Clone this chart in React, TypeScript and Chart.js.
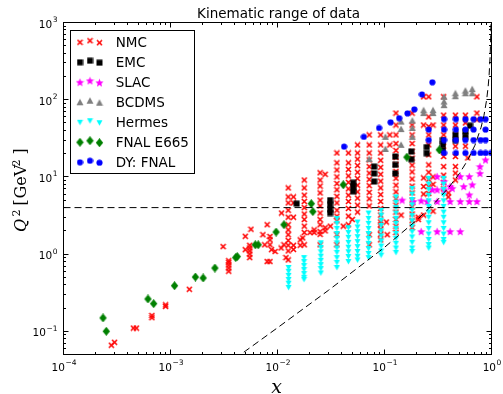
import React, { useEffect, useRef } from 'react';
import { Chart, registerables } from 'chart.js';

Chart.register(...registerables);

// ---------------- data (x bin -> list of Q^2 values) ----------------
const NMC_X = [2.8e-4, 3.0e-4, 4.5e-4, 4.8e-4, 6.7e-4, 9.0e-4, 1.5e-3, 3.1e-3, 3.5e-3, 5.0e-3, 5.5e-3, 5.65e-3, 7.3e-3, 7.6e-3, 8.0e-3, 8.5e-3, 8.8e-3, 9.5e-3, 0.0108, 0.0109, 0.0115, 0.012, 0.0126, 0.0141, 0.0163, 0.0172, 0.0178, 0.0201, 0.022, 0.025, 0.0279, 0.0312, 0.0359, 0.0412, 0.046, 0.05, 0.056, 0.072, 0.092, 0.104, 0.106, 0.112, 0.128, 0.143, 0.181, 0.207, 0.232, 0.259, 0.284, 0.357, 0.395, 0.46, 0.57, 0.6, 0.73];
const NMC_Q2 = [
  [0.066], [0.072], [0.11], [0.11], [0.15, 0.16], [0.21, 0.22], [0.35], [1.25],
  [0.6, 0.66, 0.72, 0.78, 0.82], [1.14, 1.7], [0.9, 1.0, 1.1, 1.2, 1.3], [2.1],
  [1.78], [1.32], [2.4, 0.8], [1.69, 1.53, 1.32, 0.8], [1.14], [1.08], [1.2], [3.4], [1.32], [0.9],
  [7.2, 5.5, 4.6, 3.7, 3.0, 2.4, 2.06, 1.78, 1.5, 1.3, 1.1, 0.84],
  [5.5, 4.6, 3.0, 1.3, 1.15],
  [1.53, 1.3], [1.62],
  [9.1, 7.2, 5.8, 4.8, 4.0, 3.3, 2.8, 2.3, 1.9, 1.32],
  [1.9], [1.9, 2.06],
  [11.3, 9.1, 7.6, 6.2, 5.0, 4.2, 3.4, 2.8, 2.4, 1.96, 1.8, 1.32],
  [10.8, 2.0, 2.2], [2.3],
  [20.4, 15.2, 12.3, 10.0, 8.2, 6.8, 5.6, 4.6, 3.7, 3.1, 2.7, 1.78, 1.32],
  [2.3],
  [20.4, 15.2, 12.5, 10.3, 8.5, 7.0, 5.8, 4.8, 3.9, 3.1, 2.4],
  [2.8],
  [25.9, 20.4, 17, 14, 11.5, 9.5, 7.8, 6.4, 5.3, 4.3, 3.5],
  [35, 25.9, 20.4, 16.6, 13.6, 11.2, 9.3, 7.7, 6.3, 5.2, 4.2, 1.78, 1.32],
  [35, 25.9, 20.4, 16.4, 13.3, 10.8, 8.8, 7.2, 5.9, 4.8, 3.9, 3.2, 2.6, 2.4, 2.1, 1.8, 1.53],
  [2.6], [1.78], [35, 25.9],
  [67, 47, 35, 27, 22, 17.8, 14.5, 11.8, 9.6, 7.8, 6.4, 5.2, 4.3, 3.5, 2.8, 2.3, 1.9],
  [3.2],
  [67, 47, 35, 27, 21.5, 17.5, 14.2, 11.6, 9.4, 7.6, 6.2, 5.0, 4.1, 3.3, 2.7, 2.2],
  [3.0, 2.8],
  [109, 47, 9.7, 7.5, 6.0, 3.2],
  [109, 60, 45, 35, 26, 19.3, 14.3, 11.5, 9.3, 7.5, 6.1],
  [47, 10, 8, 3.6],
  [109, 63, 47, 35, 25, 18.4, 13.6, 10.5, 8.5, 7.0],
  [6.2, 5.5],
  [63, 47, 35, 25, 18.4, 13.6, 11.2, 9.1],
  [63, 50, 35, 25],
  [17.6],
  [109, 67, 55],
];

const EMC_X = [0.0151, 0.031, 0.051, 0.08, 0.126, 0.178, 0.248, 0.352, 0.46, 0.57, 0.63];
const EMC_Q2 = [[4.5], [5.0, 4.4, 3.8, 3.4], [8.4, 7.4, 6.5], [13.6, 11.1, 8.7], [18.4, 14.3, 11.1], [21.3, 16.9], [24.3, 20.2], [30, 26, 22], [35, 30], [38.7, 33], [46]];

const SLAC_X = [0.146, 0.186, 0.22, 0.25, 0.28, 0.31, 0.36, 0.41, 0.43, 0.51, 0.55, 0.62, 0.66, 0.73, 0.78, 0.88];
const SLAC_Q2 = [[5.0], [4.8], [4.9, 1.96], [4.8], [6.8], [10.1, 6.8, 4.8, 1.96], [8.7, 6.8], [7.5, 4.8, 1.96], [7.1], [10.1, 4.8, 1.96], [7.5], [10.1, 5.85, 4.8], [7.9], [4.8], [11.1, 13.6], [16.6]];

const BCDMS_X = [0.072, 0.102, 0.143, 0.182, 0.232, 0.284, 0.36, 0.46, 0.57, 0.66];
const BCDMS_Q2 = [[17], [33, 23], [52, 41.6, 26], [53.6, 43, 33], [73, 67], [73, 67], [109, 94.5, 85], [121, 111], [131, 121], [137, 121]];

const HERMES_X = [0.0127, 0.0177, 0.0254, 0.0359, 0.046, 0.056, 0.071, 0.093, 0.128, 0.181, 0.259, 0.357];
const HERMES_Q2 = [
  [0.67, 0.6, 0.53, 0.47, 0.42, 0.37],
  [0.9, 0.8, 0.71, 0.63, 0.56, 0.5, 0.47],
  [1.4, 1.22, 1.07, 0.94, 0.83, 0.73, 0.65, 0.57],
  [2.9, 2.5, 2.15, 1.85, 1.6, 1.4, 1.2, 1.05, 0.9, 0.78, 0.67],
  [2.2, 1.9, 1.65, 1.42, 1.23, 1.07, 0.93, 0.8],
  [2.6, 2.25, 1.95, 1.68, 1.45, 1.25, 1.08, 0.94, 0.84],
  [3.4, 2.9, 2.5, 2.15, 1.85, 1.6, 1.38, 1.18, 1.02, 0.9],
  [3.7, 3.2, 2.75, 2.35, 2.0, 1.72, 1.48, 1.27, 1.1, 0.97],
  [5.5, 4.7, 4.0, 3.4, 2.9, 2.5, 2.15, 1.85, 1.6, 1.38, 1.2, 1.05],
  [7.1, 6.0, 5.1, 4.35, 3.7, 3.15, 2.7, 2.3, 1.95, 1.67, 1.42, 1.2, 1.08],
  [9.6, 8.1, 6.9, 5.8, 4.9, 4.15, 3.5, 3.0, 2.55, 2.15, 1.82, 1.55, 1.33, 1.2],
  [9.6, 8.1, 6.9, 5.8, 4.9, 4.15, 3.5, 3.0, 2.55, 2.15, 1.82, 1.55, 1.42],
];

const E665_X = [2.34e-4, 2.51e-4, 6.16e-4, 6.96e-4, 1.09e-3, 1.71e-3, 2.02e-3, 2.6e-3, 4.07e-3, 4.2e-3, 6.2e-3, 6.6e-3, 9.7e-3, 0.0115, 0.0207, 0.0214, 0.0412, 0.162, 0.325];
const E665_Q2 = [[0.149], [0.1], [0.262], [0.228], [0.389], [0.504], [0.49], [0.66], [0.9], [0.93], [1.32], [1.32], [1.93], [2.4], [4.5], [3.55], [7.9], [18], [22.4]];

const DY_X = [0.0419, 0.0641, 0.089, 0.114, 0.137, 0.164, 0.19, 0.224, 0.28, 0.259, 0.36, 0.465, 0.57, 0.68, 0.79, 0.88, 0.99];
const DY_Q2 = [[24.7], [33], [43], [51], [57.6], [66.6], [75], [117], [168], [41, 30], [56, 41, 30, 20.4], [56, 41, 30, 20.4], [56, 41, 30, 20.4], [56, 41, 30, 20.4], [56, 30, 20.4], [56, 41, 30, 20.4], [20.4]];

// kinematic cuts
const W_CUT_X = [0.004, 0.005, 0.01, 0.03, 0.1, 0.2, 0.3, 0.4, 0.5, 0.6, 0.7, 0.8, 0.85, 0.9, 0.93, 0.95, 0.97, 0.98, 0.99];
const W_CUT_Q2 = [0.0442, 0.0553, 0.111, 0.34, 1.222, 2.75, 4.714, 7.333, 11.0, 16.5, 25.67, 44.0, 62.33, 99.0, 146.1, 209, 355.7, 539, 1089];
const Q2_CUT_X = [1e-4, 1];
const Q2_CUT_Q2 = [4, 4];

const X_TICKS = [1e-4, 1e-3, 1e-2, 1e-1, 1];
const X_TICK_EXP = ['\u22124', '\u22123', '\u22122', '\u22121', '0'];
const Y_TICKS = [1e-1, 1, 10, 100, 1000];
const Y_TICK_EXP = ['\u22121', '0', '1', '2', '3'];

const LEGEND_LABELS = ['NMC', 'EMC', 'SLAC', 'BCDMS', 'Hermes', 'FNAL E665', 'DY: FNAL'];
const TITLE = 'Kinematic range of data';

// ---------------- helpers ----------------
function toPoints(xs: number[], qs: number[][]) {
  const pts: { x: number; y: number }[] = [];
  xs.forEach((x, i) => qs[i].forEach((q) => pts.push({ x, y: q })));
  return pts;
}

function makeMarker(kind: string, color: string, size: number) {
  const c = document.createElement('canvas');
  c.width = size;
  c.height = size;
  const g = c.getContext('2d')!;
  const m = size / 2;
  g.fillStyle = color;
  g.strokeStyle = color;
  g.beginPath();
  if (kind === 'x') {
    g.lineWidth = 1.6;
    g.moveTo(1, 1); g.lineTo(size - 1, size - 1);
    g.moveTo(size - 1, 1); g.lineTo(1, size - 1);
    g.stroke();
  } else if (kind === 'square') {
    g.fillRect(0.5, 0.5, size - 1, size - 1);
  } else if (kind === 'star') {
    const R = m - 0.2, r = R * 0.45;
    for (let i = 0; i < 10; i++) {
      const a = -Math.PI / 2 + (i * Math.PI) / 5;
      const rr = i % 2 === 0 ? R : r;
      const px = m + rr * Math.cos(a), py = m + 0.4 + rr * Math.sin(a);
      if (i === 0) g.moveTo(px, py); else g.lineTo(px, py);
    }
    g.closePath(); g.fill();
  } else if (kind === 'triUp') {
    g.moveTo(m, 0.5); g.lineTo(size - 0.5, size - 1); g.lineTo(0.5, size - 1); g.closePath(); g.fill();
  } else if (kind === 'triDown') {
    g.moveTo(m, size - 0.5); g.lineTo(size - 0.5, 1); g.lineTo(0.5, 1); g.closePath(); g.fill();
  } else if (kind === 'diamond') {
    g.moveTo(m, 0); g.lineTo(size - 0.8, m); g.lineTo(m, size); g.lineTo(0.8, m); g.closePath(); g.fill();
  } else if (kind === 'circle') {
    g.arc(m, m, m - 0.4, 0, Math.PI * 2); g.fill();
  }
  return c;
}

export default function App() {
  const ref = useRef<HTMLCanvasElement>(null);

  useEffect(() => {
    const markers = [
      makeMarker('x', '#ff0000', 7),
      makeMarker('square', '#000000', 7),
      makeMarker('star', '#ff00ff', 9),
      makeMarker('triUp', '#808080', 8),
      makeMarker('triDown', '#00ffff', 7),
      makeMarker('diamond', '#008000', 9),
      makeMarker('circle', '#0000ff', 7),
    ];
    const series = [
      toPoints(NMC_X, NMC_Q2),
      toPoints(EMC_X, EMC_Q2),
      toPoints(SLAC_X, SLAC_Q2),
      toPoints(BCDMS_X, BCDMS_Q2),
      toPoints(HERMES_X, HERMES_Q2),
      toPoints(E665_X, E665_Q2),
      toPoints(DY_X, DY_Q2),
    ];
    const datasets: any[] = series.map((data, i) => ({
      label: LEGEND_LABELS[i],
      data,
      pointStyle: markers[i],
      pointRadius: 3,
      pointHoverRadius: 3,
      showLine: false,
      order: 10 - i,
    }));
    const dashed = (xs: number[], ys: number[]) => ({
      data: xs.map((x, i) => ({ x, y: ys[i] })),
      showLine: true,
      pointRadius: 0,
      borderColor: '#000',
      borderWidth: 1,
      borderDash: [7, 4],
      fill: false,
      tension: 0,
      order: 0,
    });
    datasets.push(dashed(W_CUT_X, W_CUT_Q2));
    datasets.push(dashed(Q2_CUT_X, Q2_CUT_Q2));

    const decor = {
      id: 'decor',
      afterDraw(chart: any) {
        const { ctx, chartArea: a, scales } = chart;
        const xs = scales.x, ys = scales.y;
        ctx.save();
        ctx.fillStyle = '#000';
        ctx.strokeStyle = '#000';
        ctx.lineWidth = 1;
        // frame
        ctx.strokeRect(a.left, a.top, a.right - a.left, a.bottom - a.top);
        // ticks
        const snap = (v: number) => Math.floor(v) + 0.5;
        ctx.beginPath();
        for (let e = -4; e <= 0; e++) {
          for (let m = 1; m <= 9; m++) {
            const v = m * Math.pow(10, e);
            if (v > 1.0000001) continue;
            const L = m === 1 ? 5 : 2.5;
            const px = snap(xs.getPixelForValue(v));
            ctx.moveTo(px, a.bottom); ctx.lineTo(px, a.bottom - L);
            ctx.moveTo(px, a.top); ctx.lineTo(px, a.top + L);
          }
        }
        for (let e = -2; e <= 3; e++) {
          for (let m = 1; m <= 9; m++) {
            const v = m * Math.pow(10, e);
            if (v <= 0.0500001 || v > 1000.0001) continue;
            const L = m === 1 ? 5 : 2.5;
            const py = snap(ys.getPixelForValue(v));
            ctx.moveTo(a.left, py); ctx.lineTo(a.left + L, py);
            ctx.moveTo(a.right, py); ctx.lineTo(a.right - L, py);
          }
        }
        ctx.stroke();

        // tick labels
        const drawPow = (exp: string, cx: number, baseY: number, align: string) => {
          ctx.font = '10.5px "DejaVu Sans"';
          const w1 = ctx.measureText('10').width;
          ctx.font = '7.5px "DejaVu Sans"';
          const w2 = ctx.measureText(exp).width;
          const total = w1 + 0.5 + w2;
          const x0 = align === 'center' ? cx - total / 2 : cx - total;
          ctx.textAlign = 'left';
          ctx.textBaseline = 'alphabetic';
          ctx.font = '10.5px "DejaVu Sans"';
          ctx.fillText('10', x0, baseY);
          ctx.font = '7.5px "DejaVu Sans"';
          ctx.fillText(exp, x0 + w1 + 0.5, baseY - 5.5);
        };
        X_TICKS.forEach((v, i) => drawPow(X_TICK_EXP[i], xs.getPixelForValue(v) + 0.5, a.bottom + 16.2, 'center'));
        Y_TICKS.forEach((v, i) => drawPow(Y_TICK_EXP[i], a.left - 6, ys.getPixelForValue(v) + 5, 'right'));

        // title
        ctx.font = '13.5px "DejaVu Sans"';
        ctx.textAlign = 'center';
        ctx.fillText(TITLE, (a.left + a.right) / 2 + 1, 17.5);

        // x axis label
        ctx.font = 'italic 19px "DejaVu Serif"';
        ctx.fillText('x', 276.5, 392.5);

        // y axis label (rotated pieces)
        const piece = (t: string, font: string, bx: number, py: number) => {
          ctx.save();
          ctx.font = font;
          ctx.textAlign = 'left';
          ctx.translate(bx, py);
          ctx.rotate(-Math.PI / 2);
          ctx.fillText(t, 0, 0);
          ctx.restore();
        };
        const f = '16px "DejaVu Serif"';
        const fs = '11px "DejaVu Serif"';
        piece('Q', 'italic 16px "DejaVu Serif"', 25.5, 232);
        piece('2', fs, 19.5, 216.5);
        piece('[', f, 25.5, 205.5);
        piece('GeV', f, 25.5, 198.5);
        piece('2', fs, 19.5, 166.5);
        piece(']', f, 25.5, 154.5);

        // legend
        ctx.fillStyle = '#fff';
        ctx.fillRect(70.5, 30.5, 124, 143);
        ctx.strokeRect(70.5, 30.5, 124, 143);
        const offs = [0.3, -1.3, 0.7];
        const mx = [80, 90, 99.5];
        LEGEND_LABELS.forEach((lab, i) => {
          const yc = 42 + 20 * i;
          const img = markers[i];
          for (let k = 0; k < 3; k++) {
            ctx.drawImage(img, mx[k] - img.width / 2, yc + offs[k] - img.height / 2);
          }
          ctx.fillStyle = '#000';
          ctx.font = '13.5px "DejaVu Sans"';
          ctx.textAlign = 'left';
          ctx.fillText(lab, 115.7, 46.7 + 20 * i);
        });
        ctx.restore();
      },
    };

    const chart = new Chart(ref.current!, {
      type: 'scatter',
      data: { datasets },
      options: {
        responsive: false,
        animation: false,
        events: [],
        layout: { padding: { left: 63.5, right: 11.5, top: 22.5, bottom: 39.5 } },
        plugins: { legend: { display: false }, tooltip: { enabled: false }, title: { display: false } },
        scales: {
          x: { type: 'logarithmic', min: 1e-4, max: 1, bounds: 'data', display: false },
          y: { type: 'logarithmic', min: 0.05, max: 1000, bounds: 'data', display: false },
        },
      },
      plugins: [decor],
    } as any);
    return () => chart.destroy();
  }, []);

  return (
    <div style={{ position: 'absolute', left: 0, top: 0, width: 503, height: 394, background: '#fff' }}>
      <canvas ref={ref} width={503} height={394} style={{ display: 'block' }} />
    </div>
  );
}
